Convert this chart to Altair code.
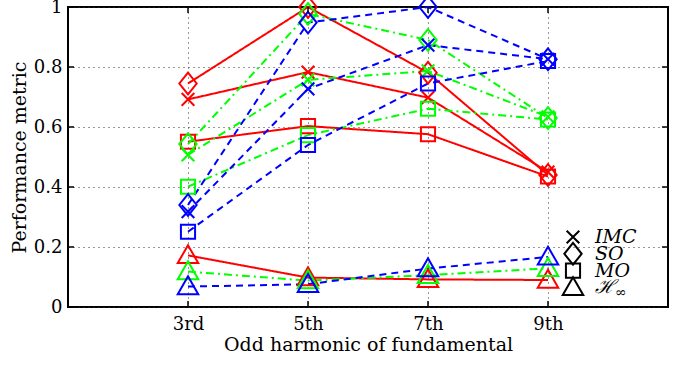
import altair as alt
import pandas as pd

# ---------------- data ----------------
harmonics = [3, 5, 7, 9]
harmonic_labels = ["3rd", "5th", "7th", "9th"]
y_ticks = [0, 0.2, 0.4, 0.6, 0.8, 1.0]

methods = ["IMC", "SO", "MO", "Hinf"]
legend_labels = ["IMC", "SO", "MO", "ℋ"]
legend_subs = ["", "", "", "∞"]

series = ["red", "green", "blue"]

red_imc = [0.692, 0.783, 0.698, 0.450]
red_so = [0.745, 1.000, 0.781, 0.440]
red_mo = [0.551, 0.603, 0.576, 0.435]
red_hinf = [0.172, 0.098, 0.092, 0.090]

green_imc = [0.507, 0.757, 0.787, 0.634]
green_so = [0.543, 0.977, 0.890, 0.630]
green_mo = [0.401, 0.573, 0.661, 0.625]
green_hinf = [0.118, 0.088, 0.106, 0.129]

blue_imc = [0.318, 0.727, 0.873, 0.826]
blue_so = [0.340, 0.948, 1.000, 0.826]
blue_mo = [0.251, 0.540, 0.745, 0.820]
blue_hinf = [0.068, 0.076, 0.128, 0.167]

values = {
    "red": [red_imc, red_so, red_mo, red_hinf],
    "green": [green_imc, green_so, green_mo, green_hinf],
    "blue": [blue_imc, blue_so, blue_mo, blue_hinf],
}

rows = []
for s in series:
    for m, vals in zip(methods, values[s]):
        for h, v in zip(harmonics, vals):
            rows.append({"series": s, "method": m, "h": h, "v": v})
df = pd.DataFrame(rows)

legend_df = pd.DataFrame({
    "method": methods,
    "label": legend_labels,
    "sub": legend_subs,
    "i": list(range(len(methods))),
})

# ---------------- styling ----------------
FONT = "DejaVu Serif"
colors = ["#ff0000", "#00ff00", "#0000ff"]
dashes = [[1, 0], [8, 4, 2, 4], [7, 5]]
shape_paths = [
    "M-1,-1L1,1M-1,1L1,-1",
    "M0,-1L0.8,0L0,1L-0.8,0Z",
    "M-1,-1L1,-1L1,1L-1,1Z",
    "M0,-1L1,0.75L-1,0.75Z",
]
shape_sizes = [160, 470, 200, 420]

W, H = 600, 300

label_expr = "".join(
    f"datum.value == {h} ? '{l}' : " for h, l in zip(harmonics, harmonic_labels)
) + "''"

x_scale = alt.Scale(domain=[1, 11], nice=False, zero=False)
y_scale = alt.Scale(domain=[0, 1], nice=False, zero=False)

x_enc = alt.X(
    "h:Q", scale=x_scale,
    axis=alt.Axis(values=harmonics, labelExpr=label_expr,
                  title="Odd harmonic of fundamental",
                  labelPadding=8, titlePadding=2, labelFlush=False),
)
y_enc = alt.Y(
    "v:Q", scale=y_scale,
    axis=alt.Axis(values=y_ticks, format="~g", title="Performance metric",
                  labelPadding=6, titlePadding=4, labelFlush=False),
)

shape_scale = alt.Scale(domain=methods, range=shape_paths)
size_scale = alt.Scale(type="ordinal", domain=methods, range=shape_sizes)
color_scale = alt.Scale(domain=series, range=colors)

base = alt.Chart(df)

lines = base.mark_line(strokeWidth=2).encode(
    x=x_enc, y=y_enc,
    color=alt.Color("series:N", scale=color_scale, legend=None),
    strokeDash=alt.StrokeDash("series:N", scale=alt.Scale(domain=series, range=dashes), legend=None),
    detail="method:N",
    order=alt.Order("h:Q"),
)

points = base.mark_point(filled=False, strokeWidth=2, opacity=1).encode(
    x="h:Q", y="v:Q",
    color=alt.Color("series:N", scale=color_scale, legend=None),
    shape=alt.Shape("method:N", scale=shape_scale, legend=None),
    size=alt.Size("method:N", scale=size_scale, legend=None),
)

# inward ticks
tx = alt.Chart(pd.DataFrame({"h": harmonics}))
ty = alt.Chart(pd.DataFrame({"v": y_ticks}))
tick_style = dict(color="black", strokeWidth=1.5)
ticks_bottom = tx.mark_rule(**tick_style).encode(x="h:Q", y=alt.value(H), y2=alt.value(H - 6))
ticks_top = tx.mark_rule(**tick_style).encode(x="h:Q", y=alt.value(0), y2=alt.value(6))
ticks_left = ty.mark_rule(**tick_style).encode(y="v:Q", x=alt.value(0), x2=alt.value(6))
ticks_right = ty.mark_rule(**tick_style).encode(y="v:Q", x=alt.value(W), x2=alt.value(W - 6))

# legend
leg = alt.Chart(legend_df).transform_calculate(py="230 + datum.i * 16.8", py2="236 + datum.i * 16.8")
leg_pts = leg.mark_point(filled=False, strokeWidth=2, opacity=1, color="black").encode(
    x=alt.value(505),
    y=alt.Y("py:Q", scale=None, axis=None),
    shape=alt.Shape("method:N", scale=shape_scale, legend=None),
    size=alt.Size("method:N", scale=size_scale, legend=None),
)
leg_txt = leg.mark_text(align="left", baseline="middle", font=FONT, fontStyle="italic",
                        fontSize=19, color="black").encode(
    x=alt.value(527),
    y=alt.Y("py:Q", scale=None, axis=None),
    text="label:N",
)
leg_sub = leg.mark_text(align="left", baseline="middle", font=FONT,
                        fontSize=14, color="black").encode(
    x=alt.value(547),
    y=alt.Y("py2:Q", scale=None, axis=None),
    text="sub:N",
)

chart = alt.layer(
    lines, points, ticks_bottom, ticks_top, ticks_left, ticks_right,
    leg_pts, leg_txt, leg_sub,
).properties(
    width=W, height=H,
    background="white",
    autosize=alt.AutoSizeParams(type="none"),
    padding={"left": 68, "top": 7, "right": 15, "bottom": 58},
).configure_view(
    stroke="black", strokeWidth=2,
).configure_axis(
    domain=False, ticks=False, grid=True,
    gridDash=[1, 4], gridColor="#333", gridWidth=1, gridOpacity=1,
    labelFont=FONT, labelFontSize=18, labelColor="black",
    titleFont=FONT, titleFontSize=19, titleFontWeight="normal", titleColor="black",
)

chart.save("out.html", embed_options={"renderer": "svg", "actions": False})
